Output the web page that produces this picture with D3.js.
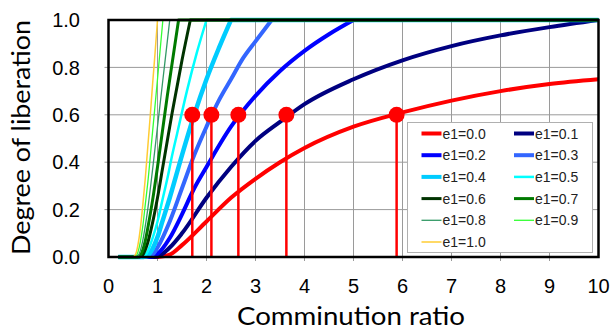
<!DOCTYPE html>
<html>
<head>
<meta charset="utf-8">
<script src="https://cdn.jsdelivr.net/npm/d3@7"></script>
<style>
  body { margin: 0; background: #fff; }
  svg { display: block; }
</style>
</head>
<body>
<svg id="chart" width="611" height="332"></svg>
<script>
// liberation curves, [comminution ratio, degree of liberation]
const e1_00 = [[0.2,0],[1,0],[1.25,0.01],[1.5,0.05],[2,0.15],[2.5,0.25],[3,0.33],[3.5,0.40],[4,0.46],[5,0.55],[6,0.61],[7,0.66],[8,0.70],[9,0.73],[10,0.75]];
const e1_01 = [[0.2,0],[0.91,0],[1,0.002],[1.25,0.04],[1.5,0.10],[2,0.25],[2.5,0.38],[3,0.49],[3.5,0.57],[4,0.645],[5,0.75],[6,0.83],[7,0.89],[8,0.935],[9,0.97],[10,1]];
const e1_02 = [[0.2,0],[0.83,0],[0.9,0.002],[1,0.013],[1.25,0.08],[1.5,0.18],[1.75,0.29],[2,0.38],[2.5,0.55],[3,0.68],[3.5,0.785],[4,0.87],[4.5,0.94],[5,1],[10,1]];
const e1_03 = [[0.2,0],[0.77,0],[0.9,0.01],[1,0.04],[1.25,0.15],[1.5,0.29],[1.75,0.43],[2,0.55],[2.25,0.66],[2.5,0.75],[2.75,0.84],[3,0.91],[3.33,1],[10,1]];
const e1_04 = [[0.2,0],[0.71,0],[0.8,0.006],[0.9,0.035],[1,0.084],[1.1,0.15],[1.25,0.25],[1.5,0.43],[1.75,0.60],[2,0.75],[2.25,0.88],[2.5,1],[10,1]];
const e1_05 = [[0.2,0],[0.67,0],[0.75,0.008],[0.8,0.024],[0.9,0.08],[1,0.15],[1.1,0.24],[1.2,0.33],[1.3,0.43],[1.4,0.52],[1.6,0.70],[1.8,0.86],[2,1],[10,1]];
const e1_06 = [[0.2,0],[0.63,0],[0.7,0.009],[0.75,0.03],[0.8,0.06],[0.9,0.145],[1,0.25],[1.1,0.37],[1.2,0.49],[1.3,0.61],[1.4,0.72],[1.5,0.83],[1.67,1],[10,1]];
const e1_07 = [[0.2,0],[0.59,0],[0.65,0.007],[0.7,0.03],[0.75,0.067],[0.8,0.12],[0.9,0.24],[1,0.38],[1.1,0.53],[1.2,0.68],[1.3,0.82],[1.43,1],[10,1]];
const e1_08 = [[0.2,0],[0.56,0],[0.6,0.004],[0.65,0.027],[0.7,0.07],[0.75,0.13],[0.8,0.2],[0.9,0.37],[1,0.55],[1.1,0.73],[1.2,0.91],[1.25,1],[10,1]];
const e1_09 = [[0.2,0],[0.53,0],[0.55,0.001],[0.6,0.02],[0.65,0.064],[0.7,0.13],[0.75,0.22],[0.8,0.31],[0.9,0.53],[1,0.75],[1.05,0.865],[1.11,1],[10,1]];
const e1_10 = [[0.2,0],[0.5,0],[0.55,0.01],[0.6,0.05],[0.65,0.12],[0.7,0.22],[0.75,0.33],[0.8,0.46],[0.85,0.59],[0.9,0.73],[0.95,0.86],[1,1],[10,1]];

const seriesNames = ['e1=0.0','e1=0.1','e1=0.2','e1=0.3','e1=0.4','e1=0.5','e1=0.6','e1=0.7','e1=0.8','e1=0.9','e1=1.0'];
const seriesData = [e1_00, e1_01, e1_02, e1_03, e1_04, e1_05, e1_06, e1_07, e1_08, e1_09, e1_10];

// red markers where curves reach 0.6
const markerX = [1.71, 2.1, 2.65, 3.63, 5.88];
const markerY = [0.6, 0.6, 0.6, 0.6, 0.6];

const xTicks = [0,1,2,3,4,5,6,7,8,9,10];
const yTicks = [0,0.2,0.4,0.6,0.8,1.0];

// styles
const colors = ['#ff0000','#000080','#0000ff','#3366ff','#00ccff','#00ffff','#003300','#007a00','#339966','#33ff33','#ffcc33'];
const widths = [4, 4, 4, 4, 4.5, 2.5, 3, 3, 1.3, 1.3, 1.5];

const svg = d3.select('#chart');
const plotLeft = 108.5, plotRight = 598.5, plotTop = 20, plotBottom = 257;

const x = d3.scaleLinear().domain([0, 10]).range([plotLeft, plotRight]);
const y = d3.scaleLinear().domain([0, 1]).range([plotBottom, plotTop]);

svg.append('rect').attr('width', 611).attr('height', 332).attr('fill', '#fff');

// grid
const grid = svg.append('g');
grid.selectAll('.gx').data(xTicks.slice(1, -1)).enter().append('line')
    .attr('x1', d => x(d)).attr('x2', d => x(d))
    .attr('y1', plotTop).attr('y2', plotBottom + 4)
    .attr('stroke', '#9a9a9a').attr('stroke-width', 1);
grid.selectAll('.gy').data(yTicks.slice(1, -1)).enter().append('line')
    .attr('x1', plotLeft - 4).attr('x2', plotRight)
    .attr('y1', d => y(d)).attr('y2', d => y(d))
    .attr('stroke', '#9a9a9a').attr('stroke-width', 1);

// curves: flat parts straight, rising part smooth
const lineFlat = d3.line().x(d => x(d[0])).y(d => y(d[1]));
const lineRise = d3.line().x(d => x(d[0])).y(d => y(d[1])).curve(d3.curveMonotoneX);

function curvePath(pts) {
    let a = 0;
    while (a + 1 < pts.length && pts[a + 1][1] === 0) a++;
    let b = pts.findIndex(p => p[1] >= 1);
    if (b < 0) b = pts.length - 1;
    let d = lineFlat(pts.slice(0, a + 1)) + lineRise(pts.slice(a, b + 1)).replace(/^M[^CLZ]*/, '');
    if (b < pts.length - 1) d += lineFlat(pts.slice(b)).replace(/^M[^L]*/, '');
    return d;
}

svg.append('g').selectAll('path')
    .data(seriesData)
    .enter().append('path')
    .attr('d', curvePath)
    .attr('fill', 'none')
    .attr('stroke', (d, i) => colors[i])
    .attr('stroke-width', (d, i) => widths[i])
    .attr('stroke-linejoin', 'round');

// red stems and dots
const marks = svg.append('g');
marks.selectAll('line').data(markerX).enter().append('line')
    .attr('x1', d => x(d)).attr('x2', d => x(d))
    .attr('y1', y(0)).attr('y2', (d, i) => y(markerY[i]))
    .attr('stroke', '#ff0000').attr('stroke-width', 2.5);
marks.selectAll('circle').data(markerX).enter().append('circle')
    .attr('cx', d => x(d)).attr('cy', (d, i) => y(markerY[i]))
    .attr('r', 8).attr('fill', '#ff0000');

// frame
svg.append('rect')
    .attr('x', plotLeft).attr('y', plotTop)
    .attr('width', plotRight - plotLeft).attr('height', plotBottom - plotTop)
    .attr('fill', 'none').attr('stroke', '#000').attr('stroke-width', 2.5);

// tick labels
svg.append('g').selectAll('text').data(yTicks).enter().append('text')
    .attr('x', 80).attr('y', d => y(d)).attr('dy', '0.36em')
    .attr('text-anchor', 'end')
    .style('font', '20px "Liberation Sans", Arial, sans-serif')
    .attr('fill', '#000')
    .text(d => d.toFixed(1));

svg.append('g').selectAll('text').data(xTicks).enter().append('text')
    .attr('x', d => x(d)).attr('y', 293)
    .attr('text-anchor', 'middle')
    .style('font', '20px "Liberation Sans", Arial, sans-serif')
    .attr('fill', '#000')
    .text(d => d);

// axis titles
svg.append('text')
    .attr('x', 351).attr('y', 325)
    .attr('text-anchor', 'middle')
    .attr('textLength', 228).attr('lengthAdjust', 'spacingAndGlyphs')
    .style('font', '25px Lato, "Open Sans", sans-serif')
    .text('Comminution ratio');

svg.append('text')
    .attr('transform', 'translate(30,137.5) rotate(-90)')
    .attr('text-anchor', 'middle')
    .attr('textLength', 235).attr('lengthAdjust', 'spacingAndGlyphs')
    .style('font', '25px Lato, "Open Sans", sans-serif')
    .text('Degree of liberation');

// legend
const legend = svg.append('g');
legend.append('rect')
    .attr('x', 407.5).attr('y', 122.5).attr('width', 185).attr('height', 130)
    .attr('fill', '#fff').attr('stroke', '#b0b0b0').attr('stroke-width', 1);

const items = legend.selectAll('g.item').data(seriesNames).enter().append('g')
    .attr('transform', (d, i) => 'translate(' + (i % 2 === 0 ? 421.5 : 514) + ',' + (133.5 + Math.floor(i / 2) * 21.7) + ')');
items.append('line')
    .attr('x1', 0).attr('x2', 20).attr('y1', 0).attr('y2', 0)
    .attr('stroke', (d, i) => colors[i])
    .attr('stroke-width', (d, i) => Math.min(widths[i], 4));
items.append('text')
    .attr('x', 21).attr('y', 0).attr('dy', '0.36em')
    .style('font', '14px "Liberation Sans", Arial, sans-serif')
    .attr('fill', '#222')
    .text(d => d);
</script>
</body>
</html>
